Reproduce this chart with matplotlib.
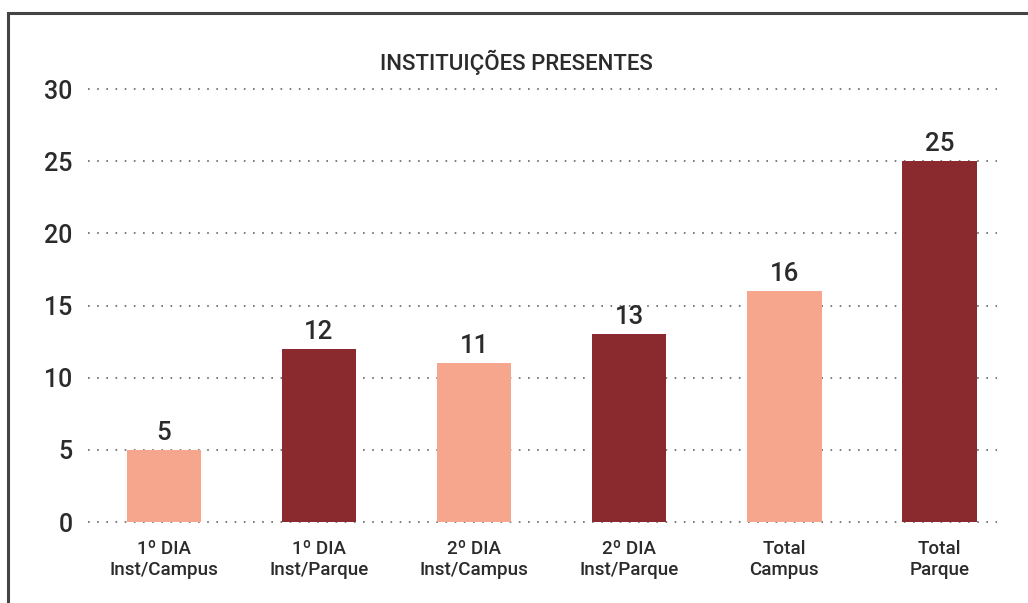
import matplotlib.pyplot as plt
from matplotlib.patches import Rectangle

categories = ["1º DIA\nInst/Campus", "1º DIA\nInst/Parque", "2º DIA\nInst/Campus",
              "2º DIA\nInst/Parque", "Total\nCampus", "Total\nParque"]
values = [5, 12, 11, 13, 16, 25]
yticks = [0, 5, 10, 15, 20, 25, 30]
title = "INSTITUIÇÕES PRESENTES"

light = "#F7A68E"
dark = "#8B2A2E"
text_color = "#2b2b2b"
colors = [light, dark, light, dark, light, dark]

plt.rcParams["font.family"] = ["Roboto", "DejaVu Sans"]

fig = plt.figure(figsize=(10.28, 6.03), dpi=100)
ax = fig.add_axes([0.0856, 0.1343, 0.884, 0.7181])

x = list(range(len(values)))
ax.bar(x, values, width=0.48, color=colors, zorder=3)

# dotted gridlines across the whole plot area
for t in yticks:
    ax.axhline(t, color="#666666", linestyle=(0, (1, 4.5)), linewidth=1.2,
               zorder=1, clip_on=False)

for xi, v in zip(x, values):
    ax.text(xi, v + 0.35, str(v), ha="center", va="bottom", fontsize=18.5,
            color=text_color, fontweight="medium")

ax.set_xlim(-0.49, 5.37)
ax.set_ylim(0, 30)
ax.set_yticks(yticks)
ax.set_yticklabels([str(t) for t in yticks], fontsize=18, color=text_color,
                   fontweight="medium")
ax.set_xticks(x)
ax.set_xticklabels(categories, fontsize=13.5, color=text_color,
                   fontweight="medium", linespacing=1.2)
ax.tick_params(axis="both", length=0)
ax.tick_params(axis="y", pad=11)
ax.tick_params(axis="x", pad=13)
for spine in ax.spines.values():
    spine.set_visible(False)

fig.text(0.502, 0.897, title, ha="center", va="center", fontsize=16,
         color=text_color, fontweight="medium")

# outer frame, cut by the image edges on the right and bottom
fig.patches.append(Rectangle((8 / 1028, -0.1), 1.1, 1.078, transform=fig.transFigure,
                             fill=False, edgecolor="#444444", linewidth=2.2))

fig.savefig("out.png", dpi=100)
